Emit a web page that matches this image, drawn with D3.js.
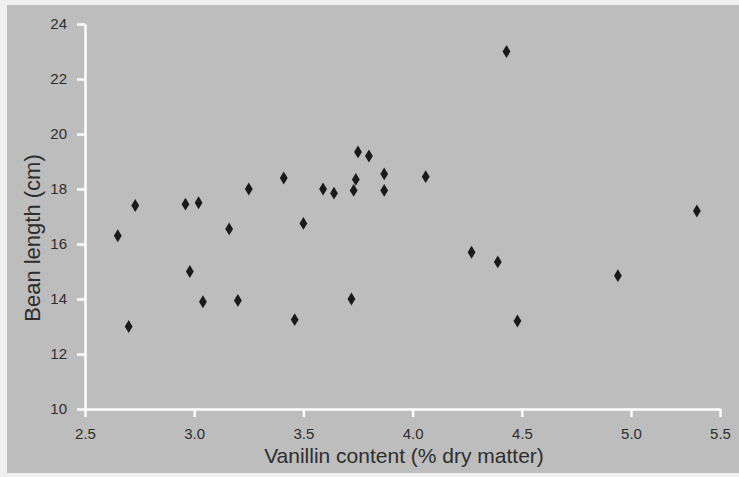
<!DOCTYPE html>
<html>
<head>
<meta charset="utf-8">
<script src="https://cdn.jsdelivr.net/npm/d3@7"></script>
<style>
  body { margin: 0; background: #efefef; }
  svg { display: block; }
</style>
</head>
<body>
<svg width="739" height="477"></svg>
<script>
'use strict';

// vanillin content (% dry matter) for each bean sample
var vanillin = [2.65, 2.70, 2.73, 2.96, 3.02, 2.98, 3.04, 3.16, 3.20, 3.25,
    3.41, 3.50, 3.59, 3.64, 3.73, 3.74, 3.75, 3.80, 3.87, 3.87,
    4.06, 3.46, 3.72, 4.27, 4.39, 4.48, 4.94, 5.37, 4.43];
// bean length (cm), same order
var beanLength = [16.3, 13.0, 17.4, 17.45, 17.5, 15.0, 13.9, 16.55, 13.95, 18.0,
    18.4, 16.75, 18.0, 17.85, 17.95, 18.35, 19.35, 19.2, 18.55, 17.95,
    18.45, 13.25, 14.0, 15.7, 15.35, 13.2, 14.85, 17.2, 23.0];

var xTicks = [2.5, 3.0, 3.5, 4.0, 4.5, 5.0, 5.5];
var yTicks = [10, 12, 14, 16, 18, 20, 22, 24];

var svg = d3.select('svg');

// grainy scan look
var defs = svg.append('defs');
var grain = defs.append('filter').attr('id', 'grain')
    .attr('x', 0).attr('y', 0).attr('width', '100%').attr('height', '100%');
grain.append('feTurbulence').attr('type', 'fractalNoise')
    .attr('baseFrequency', 0.9).attr('numOctaves', 2).attr('seed', 3).attr('result', 'n');
grain.append('feColorMatrix').attr('in', 'n').attr('type', 'matrix')
    .attr('values', '0 0 0 0 0.5  0 0 0 0 0.5  0 0 0 0 0.5  0 0 0 0.5 0').attr('result', 'g');
grain.append('feBlend').attr('in', 'SourceGraphic').attr('in2', 'g').attr('mode', 'overlay');

svg.append('rect')
    .attr('x', 7).attr('y', 5).attr('width', 732).attr('height', 468)
    .attr('fill', '#bdbdbd')
    .attr('filter', 'url(#grain)');

// the scanned axis is a little squeezed at the right end
var x = d3.scaleLinear().domain([2.5, 5.0, 5.5]).range([85, 631, 720]);
var y = d3.scaleLinear().domain([10, 24]).range([409, 24]);

var xAxis = svg.append('g')
    .attr('transform', 'translate(0,409)')
    .call(d3.axisBottom(x).tickValues(xTicks).tickFormat(d3.format('.1f'))
        .tickSize(8).tickSizeOuter(0).tickPadding(11));

var yAxis = svg.append('g')
    .attr('transform', 'translate(85,0)')
    .call(d3.axisLeft(y).tickValues(yTicks)
        .tickSize(8).tickSizeOuter(0).tickPadding(10));

[xAxis, yAxis].forEach(function (ax) {
    ax.select('.domain').attr('stroke', '#ffffff').attr('stroke-width', 2.5);
    ax.selectAll('.tick line').attr('stroke', '#ffffff').attr('stroke-width', 2.5);
    ax.selectAll('.tick text')
        .attr('fill', '#2e2e2e')
        .style('font-family', '"Liberation Sans", Arial, sans-serif')
        .style('font-size', '15px');
});

// diamond markers
var diamond = d3.symbol().type(d3.symbolDiamond).size(40);
svg.append('g').selectAll('path')
    .data(vanillin)
    .enter()
    .append('path')
    .attr('d', diamond)
    .attr('transform', function (d, i) {
        return 'translate(' + x(d) + ',' + y(beanLength[i]) + ') scale(1.15,1.1)';
    })
    .attr('fill', '#1a1a1a');

svg.append('text')
    .attr('x', 404).attr('y', 463)
    .attr('text-anchor', 'middle')
    .attr('fill', '#2e2e2e')
    .style('font-family', '"Liberation Sans", Arial, sans-serif')
    .style('font-size', '21px')
    .text('Vanillin content (% dry matter)');

svg.append('text')
    .attr('transform', 'translate(40,238) rotate(-90)')
    .attr('text-anchor', 'middle')
    .attr('fill', '#2e2e2e')
    .style('font-family', '"Liberation Sans", Arial, sans-serif')
    .style('font-size', '22px')
    .text('Bean length (cm)');
</script>
</body>
</html>
